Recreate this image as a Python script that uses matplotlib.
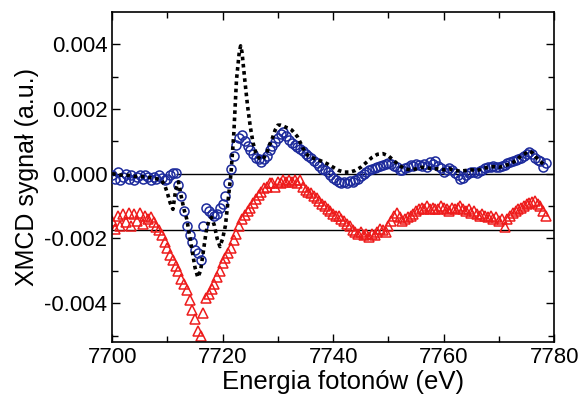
import matplotlib
matplotlib.use('Agg')
import matplotlib.pyplot as plt
import numpy as np

plt.rcParams['font.family'] = ['Liberation Sans', 'DejaVu Sans']

# energy grid of the measured spectra (eV)
energia = [
    7700.0, 7700.5, 7701.0, 7701.5, 7702.0, 7702.5, 7703.0, 7703.5, 7704.0, 7704.5,
    7705.0, 7705.5, 7706.0, 7706.5, 7707.0, 7707.5, 7708.0, 7708.5, 7709.0, 7709.5,
    7710.0, 7710.5, 7711.0, 7711.5, 7712.0, 7712.5, 7713.0, 7713.5, 7714.0, 7714.5,
    7715.0, 7715.5, 7716.0, 7716.5, 7717.0, 7717.5, 7718.0, 7718.5, 7719.0, 7719.5,
    7720.0, 7720.5, 7721.0, 7721.5, 7722.0, 7722.5, 7723.0, 7723.5, 7724.0, 7724.5,
    7725.0, 7725.5, 7726.0, 7726.5, 7727.0, 7727.5, 7728.0, 7728.5, 7729.0, 7729.5,
    7730.0, 7730.5, 7731.0, 7731.5, 7732.0, 7732.5, 7733.0, 7733.5, 7734.0, 7734.5,
    7735.0, 7735.5, 7736.0, 7736.5, 7737.0, 7737.5, 7738.0, 7738.5, 7739.0, 7739.5,
    7740.0, 7740.5, 7741.0, 7741.5, 7742.0, 7742.5, 7743.0, 7743.5, 7744.0, 7744.5,
    7745.0, 7745.5, 7746.0, 7746.5, 7747.0, 7747.5, 7748.0, 7748.5, 7749.0, 7749.5,
    7750.0, 7750.5, 7751.0, 7751.5, 7752.0, 7752.5, 7753.0, 7753.5, 7754.0, 7754.5,
    7755.0, 7755.5, 7756.0, 7756.5, 7757.0, 7757.5, 7758.0, 7758.5, 7759.0, 7759.5,
    7760.0, 7760.5, 7761.0, 7761.5, 7762.0, 7762.5, 7763.0, 7763.5, 7764.0, 7764.5,
    7765.0, 7765.5, 7766.0, 7766.5, 7767.0, 7767.5, 7768.0, 7768.5, 7769.0, 7769.5,
    7770.0, 7770.5, 7771.0, 7771.5, 7772.0, 7772.5, 7773.0, 7773.5, 7774.0, 7774.5,
    7775.0, 7775.5, 7776.0, 7776.5, 7777.0, 7777.5, 7778.0, 7778.5,
]

# XMCD signal, blue circles (units of 1e-3)
xmcd_kolka = [
    -0.05, -0.15, 0.05, -0.2, -0.1, 0.0, -0.15, -0.05, -0.2, -0.1,
    -0.05, -0.15, -0.05, -0.1, -0.2, -0.1, -0.15, -0.05, -0.12, -0.2,
    -0.15, -0.05, 0.02, 0.03, -0.35, -0.7, -1.15, -1.6, -1.9, -2.1,
    -2.35, -2.45, -2.65, -1.6, -1.05, -1.15, -1.25, -1.3, -1.25, -1.05,
    -0.95, -0.7, -0.3, 0.15, 0.55, 0.9, 1.1, 1.2, 1.0, 0.85,
    0.72, 0.6, 0.5, 0.45, 0.35, 0.45, 0.55, 0.72, 0.85, 0.98,
    1.1, 1.22, 1.28, 1.15, 1.05, 0.95, 0.88, 0.82, 0.75, 0.7,
    0.62, 0.55, 0.48, 0.4, 0.32, 0.25, 0.15, 0.1, 0.05, -0.05,
    -0.12, -0.2, -0.25, -0.28, -0.25, -0.28, -0.22, -0.25, -0.18, -0.15,
    -0.08, -0.02, 0.05, 0.1, 0.15, 0.18, 0.22, 0.24, 0.26, 0.3,
    0.32, 0.3, 0.25, 0.2, 0.12, 0.1, 0.18, 0.22, 0.28, 0.25,
    0.3, 0.28, 0.25, 0.3, 0.2, 0.35, 0.3, 0.38, 0.25, 0.18,
    0.05, 0.12, 0.18, 0.1, 0.02, -0.05, -0.15, -0.12, -0.05, 0.03,
    0.06, 0.05, 0.03, 0.08, 0.12, 0.18, 0.22, 0.2, 0.25, 0.22,
    0.2, 0.25, 0.28, 0.32, 0.35, 0.38, 0.42, 0.45, 0.5, 0.55,
    0.62, 0.68, 0.62, 0.5, 0.42, 0.38, 0.22, 0.32,
]

# XMCD signal, red triangles (units of 1e-3)
xmcd_trojkaty = [
    -1.45, -1.7, -1.3, -1.6, -1.25, -1.5, -1.2, -1.6, -1.25, -1.45,
    -1.2, -1.55, -1.3, -1.4, -1.35, -1.5, -1.65, -1.75, -1.9, -2.1,
    -2.3, -2.5, -2.65, -2.85, -3.0, -3.25, -3.4, -3.6, -3.9, -4.2,
    -4.5, -4.85, -5.0, -4.3, -3.85, -3.7, -3.55, -3.4, -3.2, -3.0,
    -2.75, -2.6, -2.45, -2.3, -2.05, -1.85, -1.6, -1.4, -1.28, -1.15,
    -1.05, -0.9, -0.78, -0.65, -0.55, -0.45, -0.4, -0.3, -0.28, -0.42,
    -0.25, -0.3, -0.2, -0.25, -0.18, -0.25, -0.2, -0.3, -0.2, -0.4,
    -0.5, -0.55, -0.6, -0.7, -0.75, -0.85, -0.95, -1.0, -1.1, -1.15,
    -1.25, -1.3, -1.3, -1.4, -1.45, -1.55, -1.6, -1.75, -1.8, -1.85,
    -1.8, -1.9, -1.85, -1.95, -1.85, -1.9, -1.8, -1.7, -1.75, -1.8,
    -1.6, -1.45, -1.3, -1.2, -1.35, -1.45, -1.4, -1.35, -1.3, -1.25,
    -1.15, -1.1, -1.05, -1.1, -1.0, -1.1, -1.05, -1.1, -1.1, -1.0,
    -1.05, -1.1, -1.15, -1.05, -1.1, -1.05, -1.0, -1.1, -1.15, -1.1,
    -1.2, -1.15, -1.25, -1.3, -1.25, -1.3, -1.35, -1.3, -1.4, -1.35,
    -1.45, -1.4, -1.65, -1.4, -1.3, -1.2, -1.15, -1.1, -1.05, -1.0,
    -0.95, -0.9, -0.88, -0.85, -0.95, -1.0, -1.15, -1.3,
]

# calculated spectrum, black dotted line
energia_teoria = [
    7700, 7701, 7702, 7703, 7704, 7705, 7706, 7707, 7708, 7709,
    7709.5, 7710, 7710.5, 7711, 7711.5, 7712, 7712.5, 7713, 7713.5, 7714,
    7714.5, 7715, 7715.5, 7716, 7716.5, 7717, 7717.5, 7718, 7718.5, 7719,
    7719.5, 7720, 7720.5, 7721, 7721.5, 7722, 7722.5, 7723, 7723.25,
    7723.5, 7724, 7724.5, 7725, 7725.5, 7726, 7726.5, 7727, 7727.5, 7728,
    7728.5, 7729, 7729.5, 7730, 7730.5, 7731, 7731.5, 7732, 7732.5, 7733,
    7733.5, 7734, 7734.5, 7735, 7735.5,
    7736, 7737, 7738, 7739, 7740, 7741, 7742, 7743, 7744, 7745,
    7746, 7747, 7748, 7749, 7750, 7751, 7752, 7753, 7754, 7755,
    7756, 7757, 7758, 7759, 7760, 7761, 7762, 7763, 7764, 7765,
    7766, 7767, 7768, 7769, 7770, 7771, 7772, 7773, 7774, 7775,
    7775.5, 7776, 7777, 7778, 7778.5,
]
xmcd_teoria = [
    0.0, -0.03, -0.05, -0.05, -0.08, -0.08, -0.1, -0.12, -0.15, -0.22,
    -0.35, -0.6, -0.9, -1.1, -0.5, -0.25, -0.7, -1.1, -1.4, -1.9,
    -2.4, -2.9, -3.2, -3.0, -2.4, -1.8, -1.45, -1.35, -1.6, -2.0,
    -2.25, -2.0, -1.6, -0.8, 0.0, 1.2, 2.9, 3.75, 3.95,
    3.75, 2.9, 2.1, 1.45, 0.95, 0.65, 0.5, 0.43, 0.5, 0.65,
    0.9, 1.1, 1.35, 1.5, 1.5, 1.47, 1.43, 1.4, 1.35, 1.25,
    1.15, 0.98, 0.8, 0.65, 0.55,
    0.5, 0.45, 0.38, 0.3, 0.2, 0.1, 0.05, 0.05, 0.1, 0.2,
    0.35, 0.5, 0.6, 0.62, 0.55, 0.4, 0.25, 0.15, 0.12, 0.15,
    0.2, 0.18, 0.15, 0.15, 0.12, 0.15, 0.1, 0.08, 0.1, 0.12,
    0.1, 0.15, 0.2, 0.22, 0.2, 0.25, 0.3, 0.4, 0.55, 0.65,
    0.7, 0.65, 0.45, 0.3, 0.28,
]

# reference baselines
linie_bazowe = [0.0, -1.73]

y_ticks = [-0.004, -0.002, 0.0, 0.002, 0.004]
y_labels = ['-0.004', '-0.002', '0.000', '0.002', '0.004']
x_ticks = [7700, 7720, 7740, 7760, 7780]

skala = 1e-3
fig = plt.figure(figsize=(5.81, 3.95), dpi=100)
ax = fig.add_axes([0.193, 0.134, 0.761, 0.836])

ax.hlines(linie_bazowe[0] * skala, 7711.5, 7780, colors='black', lw=1.0, zorder=1)
ax.hlines(linie_bazowe[1] * skala, 7700, 7780, colors='black', lw=1.0, zorder=1)

ax.plot(energia, np.array(xmcd_trojkaty) * skala, linestyle='None', marker='^',
        ms=7, mfc='none', mec='#ee1c1c', mew=1.1, zorder=2)
ax.plot(energia, np.array(xmcd_kolka) * skala, linestyle='None', marker='o',
        ms=6.5, mfc='none', mec='#1c2a9c', mew=1.1, zorder=3)
ax.plot(energia_teoria, np.array(xmcd_teoria) * skala, color='black', lw=2.6,
        linestyle=(0, (1, 1)), zorder=4)

ax.set_xlim(7700, 7780)
ax.set_ylim(-0.0052, 0.005)
ax.set_xticks(x_ticks)
ax.set_xticks([7710, 7730, 7750, 7770], minor=True)
ax.set_yticks(y_ticks)
ax.set_yticklabels(y_labels)
ax.set_yticks([-0.005, -0.003, -0.001, 0.001, 0.003], minor=True)
ax.tick_params(which='both', direction='in', top=True, right=True, labelsize=16, width=1.0)
ax.tick_params(which='major', length=6)
ax.tick_params(which='minor', length=4)
for s in ax.spines.values():
    s.set_linewidth(1.2)

ax.set_xlabel('Energia fotonów (eV)', fontsize=18.5, labelpad=2)
ax.xaxis.set_label_coords(0.523, -0.085)
ax.set_ylabel('XMCD sygnał (a.u.)', fontsize=18, labelpad=4)

fig.savefig('out.png', dpi=100)
